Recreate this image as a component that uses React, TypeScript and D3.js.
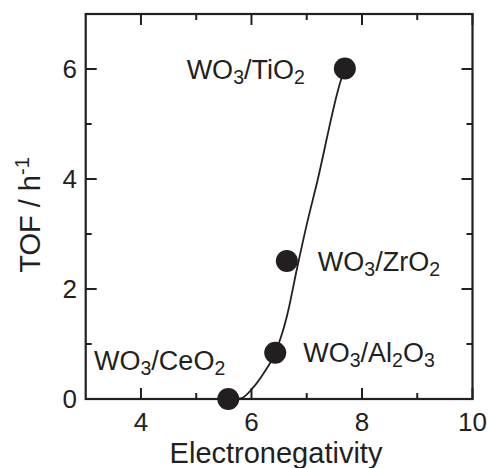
import React, { useEffect, useRef } from 'react';
import * as d3 from 'd3';

// measured catalysts
const catalysts = ['WO3/CeO2', 'WO3/Al2O3', 'WO3/ZrO2', 'WO3/TiO2'];
const electroneg = [5.58, 6.43, 6.64, 7.69];
const tof = [0.0, 0.84, 2.51, 6.01];

// fitted curve
const fitX = [5.58, 5.8, 6.04, 6.22, 6.43, 6.64, 6.83, 7.0, 7.19, 7.61, 7.69];
const fitY = [0.0, 0.01, 0.22, 0.47, 0.84, 1.5, 2.4, 3.17, 3.95, 5.77, 6.01];

const xMajor = [4, 6, 8, 10];
const xMinor = [5, 7, 9];
const yMajor = [0, 2, 4, 6];
const yMinor = [1, 3, 5];

// label placement (px relative to the marker)
const labelPos = [
  { dx: -3, dy: -29, anchor: 'end' },
  { dx: 28, dy: 9, anchor: 'start' },
  { dx: 31, dy: 10, anchor: 'start' },
  { dx: -40, dy: 11, anchor: 'end' },
];

const W = 488;
const H = 468;
const FONT = '"Liberation Sans", Arial, sans-serif';
const INK = '#231f20';

function Chart() {
  const ref = useRef<SVGSVGElement>(null);

  useEffect(() => {
    const svg = d3.select(ref.current);
    svg.selectAll('*').remove();

    const left = 85.7, right = 472.5, top = 14, bottom = 399;
    const x = d3.scaleLinear().domain([3, 10]).range([left, right]);
    const y = d3.scaleLinear().domain([0, 7]).range([bottom, top]);

    const g = svg.append('g');

    // ticks on all four sides, pointing in
    const major = 11, minor = 6;
    const tick = (x1, y1, x2, y2) =>
      g.append('line').attr('x1', x1).attr('y1', y1).attr('x2', x2).attr('y2', y2)
        .attr('stroke', INK).attr('stroke-width', 2);

    xMajor.forEach(v => { tick(x(v), bottom, x(v), bottom - major); tick(x(v), top, x(v), top + major); });
    xMinor.forEach(v => { tick(x(v), bottom, x(v), bottom - minor); tick(x(v), top, x(v), top + minor); });
    yMajor.forEach(v => { tick(left, y(v), left + major, y(v)); tick(right, y(v), right - major, y(v)); });
    yMinor.forEach(v => { tick(left, y(v), left + minor, y(v)); tick(right, y(v), right - minor, y(v)); });

    g.append('rect')
      .attr('x', left).attr('y', top)
      .attr('width', right - left).attr('height', bottom - top)
      .attr('fill', 'none').attr('stroke', INK).attr('stroke-width', 2.2);

    // tick labels
    g.selectAll('.xt').data(xMajor).enter().append('text')
      .attr('x', d => x(d)).attr('y', 431)
      .attr('text-anchor', 'middle')
      .attr('font-family', FONT).attr('font-size', 26).attr('fill', INK)
      .text(d => d);

    g.selectAll('.yt').data(yMajor).enter().append('text')
      .attr('x', 77).attr('y', d => y(d)).attr('dy', '0.36em')
      .attr('text-anchor', 'end')
      .attr('font-family', FONT).attr('font-size', 26).attr('fill', INK)
      .text(d => d);

    // axis titles
    g.append('text')
      .attr('x', 276).attr('y', 463)
      .attr('text-anchor', 'middle')
      .attr('font-family', FONT).attr('font-size', 29).attr('fill', INK)
      .text('Electronegativity');

    const yt = g.append('text')
      .attr('transform', 'translate(40,215) rotate(-90)')
      .attr('text-anchor', 'middle')
      .attr('font-family', FONT).attr('font-size', 29).attr('fill', INK);
    yt.append('tspan').text('TOF / h');
    yt.append('tspan').attr('font-size', 20).attr('dy', -11).text('-1');

    // fitted curve
    const line = d3.line<number>()
      .x((d, i) => x(fitX[i]))
      .y(d => y(d))
      .curve(d3.curveMonotoneX);
    g.append('path')
      .attr('d', line(fitY))
      .attr('fill', 'none').attr('stroke', INK).attr('stroke-width', 1.8);

    // markers
    g.selectAll('.dot').data(tof).enter().append('circle')
      .attr('cx', (d, i) => x(electroneg[i]))
      .attr('cy', d => y(d))
      .attr('r', 11)
      .attr('fill', INK);

    // labels with subscripts
    catalysts.forEach((name, i) => {
      const p = labelPos[i];
      const t = g.append('text')
        .attr('x', x(electroneg[i]) + p.dx)
        .attr('y', y(tof[i]) + p.dy)
        .attr('text-anchor', p.anchor)
        .attr('font-family', FONT).attr('font-size', 27).attr('fill', INK);
      const parts = name.match(/[A-Za-z\/]+|\d+/g) || [];
      let sub = false;
      parts.forEach(s => {
        const isNum = /^\d+$/.test(s);
        if (isNum) {
          t.append('tspan').attr('font-size', 19.5).attr('dy', sub ? 0 : 5).text(s);
          sub = true;
        } else {
          t.append('tspan').attr('dy', sub ? -5 : 0).text(s);
          sub = false;
        }
      });
    });
  }, []);

  return <svg ref={ref} width={W} height={H} style={{ position: 'absolute', left: 0, top: 0, background: '#fff' }}></svg>;
}

export default function App() {
  return <Chart />;
}
